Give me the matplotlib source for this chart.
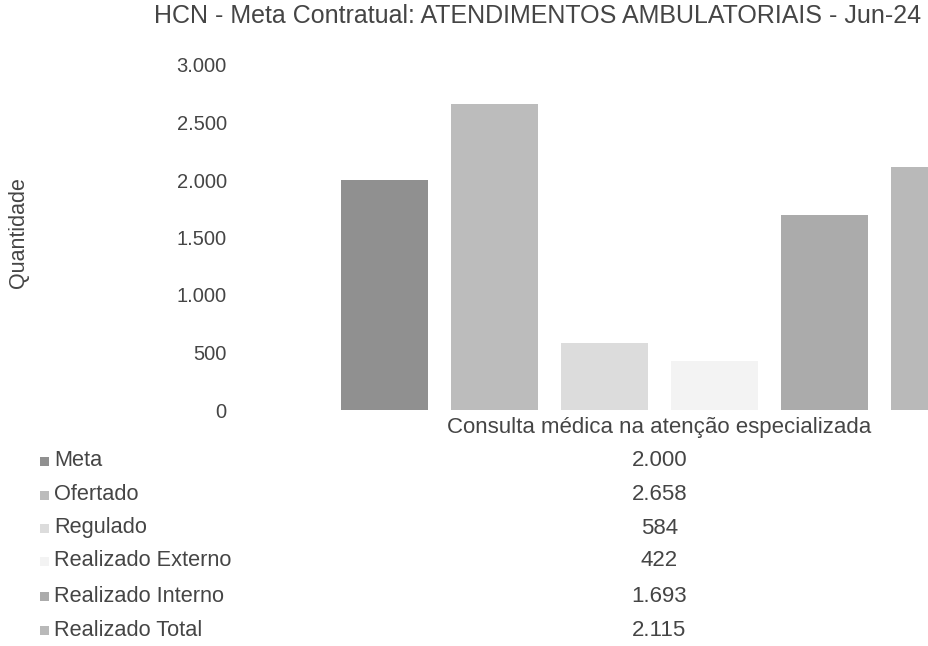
import matplotlib.pyplot as plt
from matplotlib.patches import Rectangle
from matplotlib.transforms import blended_transform_factory

plt.rcParams['font.family'] = ['Liberation Sans', 'DejaVu Sans']

# dados do gráfico
categoria = 'Consulta médica na atenção especializada'
series = ['Meta', 'Ofertado', 'Regulado', 'Realizado Externo',
          'Realizado Interno', 'Realizado Total']
valores = [2000, 2658, 584, 422, 1693, 2115]
cores = ['#909090', '#bcbcbc', '#dcdcdc', '#f3f3f3', '#ababab', '#b9b9b9']
yticks = [0, 500, 1000, 1500, 2000, 2500, 3000]

texto = '#454545'

fig = plt.figure(figsize=(9.29, 6.46), dpi=100)
W, H = 929, 646

# eixo em pixels: esquerda 260, direita 1059 (passa da borda, como no original)
ax = fig.add_axes([260 / W, (H - 410) / H, (1059 - 260) / W, 345 / H])

x = list(range(len(valores)))
ax.bar(x, valores, width=0.79, color=cores, edgecolor='none')

ax.set_xlim(-1.132, 6.132)
ax.set_ylim(0, 3000)
ax.set_yticks(yticks)
ax.set_yticklabels([f'{v:,}'.replace(',', '.') for v in yticks])
ax.set_xticks([2.5])
ax.set_xticklabels([categoria])
ax.tick_params(axis='y', length=0, pad=24, labelsize=14.5, labelcolor=texto)
ax.tick_params(axis='x', length=0, pad=5, labelsize=16, labelcolor=texto)
for s in ax.spines.values():
    s.set_visible(False)

fig.text(19 / W, 1 - 233 / H, 'Quantidade', rotation=90, ha='center',
         va='center', fontsize=15.5, color=texto)
fig.text(538 / W, 1 - 16 / H,
         'HCN - Meta Contratual: ATENDIMENTOS AMBULATORIAIS - Jun-24',
         ha='center', va='center', fontsize=18, color=texto)

# tabela de dados abaixo do gráfico
trans = blended_transform_factory(ax.transData, fig.transFigure)
linhas_y = [461, 495, 528, 561, 596, 630]
for nome, v, c, yy in zip(series, valores, cores, linhas_y):
    yf = 1 - yy / H
    fig.patches.append(Rectangle((40 / W, yf - 4.5 / H), 9 / W, 9 / H,
                                 transform=fig.transFigure, facecolor=c,
                                 edgecolor='none'))
    fig.text(54 / W, yf, nome, ha='left', va='center', fontsize=15.7,
             color=texto)
    ax.text(2.5, yf, f'{v:,}'.replace(',', '.'), transform=trans,
            ha='center', va='center', fontsize=16, color=texto, clip_on=False)

plt.savefig('out.png', dpi=100)
